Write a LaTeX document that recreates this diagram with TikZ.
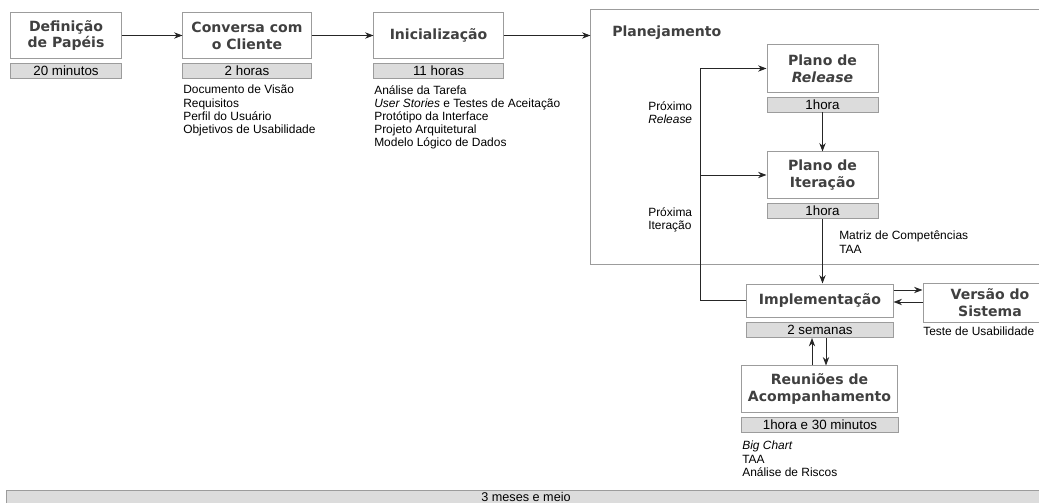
\documentclass[tikz,border=0pt]{standalone}
\usepackage{fontspec}
\setmainfont{Liberation Sans}
\newfontfamily\titulofont{DejaVu Sans}
\usetikzlibrary{arrows.meta}

\definecolor{cinzatexto}{HTML}{404040}
\definecolor{cinzaborda}{HTML}{9C9C9C}
\definecolor{cinzabarra}{HTML}{DCDCDC}

\tikzset{
  etapa/.style={draw=cinzaborda, fill=white, line width=0.7pt, text=cinzatexto,
    font=\titulofont\bfseries\fontsize{10}{12}\selectfont, align=center, inner sep=0pt},
  tempo/.style={draw=cinzaborda, fill=cinzabarra, line width=0.7pt,
    font=\fontsize{9.5}{10}\selectfont, inner sep=0pt, minimum height=0.375cm},
  lista/.style={anchor=north west, inner sep=0pt, align=left,
    font=\fontsize{8.5}{9.4}\selectfont},
  seta/.style={->, line width=0.6pt, draw=black!85},
}

\begin{document}
\begin{tikzpicture}[x=0.025cm, y=-0.025cm, >={Stealth[length=6pt,width=4.5pt]}]
  \clip (0,0) rectangle (1039,503);

  \node[etapa, minimum width=2.75cm, minimum height=1.125cm] (papeis) at (66,35.5) {Definição\\de Papéis};
  \node[tempo, minimum width=2.75cm] (papeisT) at (66,71) {20 minutos};

  \node[etapa, minimum width=3.2cm, minimum height=1.125cm] (conversa) at (247,35.5) {Conversa com\\o Cliente};
  \node[tempo, minimum width=3.2cm] (conversaT) at (247,71) {2 horas};
  \node[lista] (conversaL) at (183,85) {Documento de Visão\\Requisitos\\Perfil do Usuário\\Objetivos de Usabilidade};

  \node[etapa, minimum width=3.225cm, minimum height=1.15cm] (inicial) at (438.5,35.5) {Inicialização};
  \node[tempo, minimum width=3.225cm] (inicialT) at (438.5,71) {11 horas};
  \node[lista] (inicialL) at (374,85) {Análise da Tarefa\\\textit{User Stories} e Testes de Aceitação\\Protótipo da Interface\\Projeto Arquitetural\\Modelo Lógico de Dados};

  % quadro do planejamento
  \node[draw=cinzaborda, line width=0.7pt, minimum width=11.975cm, minimum height=6.35cm] (planej) at (830.5,137) {};
  \node[anchor=west, inner sep=0pt, text=cinzatexto, font=\titulofont\bfseries\fontsize{10}{12}\selectfont] (planejN) at (612,33) {Planejamento};

  \node[etapa, minimum width=2.775cm, minimum height=1.175cm] (release) at (822.5,68.5) {Plano de\\\textit{Release}};
  \node[tempo, minimum width=2.775cm] (releaseT) at (822.5,104.5) {1hora};

  \node[etapa, minimum width=2.775cm, minimum height=1.15cm] (iteracao) at (822.5,175) {Plano de\\Iteração};
  \node[tempo, minimum width=2.775cm] (iteracaoT) at (822.5,211) {1hora};
  \node[lista] (iteracaoL) at (839,231) {Matriz de Competências\\TAA};

  \node[lista] (proxRelease) at (648,101) {Próximo\\\textit{Release}};
  \node[lista] (proxIteracao) at (648,207) {Próxima\\Iteração};

  \node[etapa, minimum width=3.65cm, minimum height=0.825cm] (impl) at (820,300.5) {Implementação};
  \node[tempo, minimum width=3.65cm] (implT) at (820,330) {2 semanas};

  \node[etapa, minimum width=3.35cm, minimum height=0.95cm] (versao) at (990,303) {Versão do\\Sistema};
  \node[lista] (versaoL) at (923,327) {Teste de Usabilidade};

  \node[etapa, minimum width=3.875cm, minimum height=1.15cm] (reunioes) at (819.5,389) {Reuniões de\\Acompanhamento};
  \node[tempo, minimum width=3.9cm] (reunioesT) at (820,425) {1hora e 30 minutos};
  \node[lista] (reunioesL) at (742,441) {\textit{Big Chart}\\TAA\\Análise de Riscos};

  \node[tempo, minimum width=25.95cm, minimum height=0.35cm, font=\fontsize{9}{10}\selectfont] (total) at (526,497) {3 meses e meio};

  % setas
  \draw[seta] (papeis) -- (conversa);
  \draw[seta] (conversa) -- (inicial);
  \draw[seta] (inicial.east) -- (inicial.east -| planej.west);
  \draw[seta] (releaseT) -- (iteracao);
  \draw[seta] (iteracaoT.south) -- (iteracaoT.south |- impl.north);

  \coordinate (volta) at (700,0);
  \draw[seta] (impl.west) -- (impl.west -| volta) |- (release.west);
  \draw[seta] (volta |- iteracao.west) -- (iteracao.west);

  \coordinate (ida) at (0,290);
  \coordinate (vinda) at (0,302);
  \draw[seta] (impl.east |- ida) -- (versao.west |- ida);
  \draw[seta] (versao.west |- vinda) -- (impl.east |- vinda);

  \coordinate (sobe) at (812,0);
  \coordinate (desce) at (826,0);
  \draw[seta] (reunioes.north -| sobe) -- (implT.south -| sobe);
  \draw[seta] (implT.south -| desce) -- (reunioes.north -| desce);
\end{tikzpicture}
\end{document}
